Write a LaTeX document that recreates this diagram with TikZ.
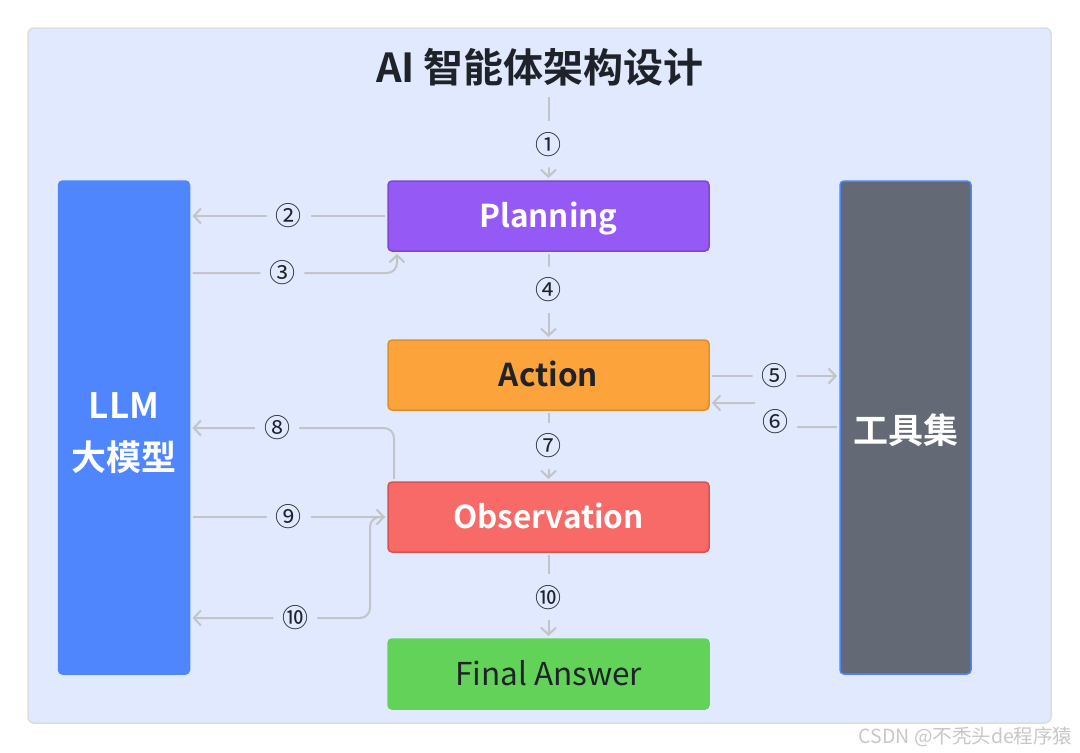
\documentclass[tikz,border=0pt]{standalone}
\usepackage{fontspec}
\newfontfamily\cjk{Noto Sans CJK SC}[BoldFont={Noto Sans CJK SC Bold}]
\usetikzlibrary{arrows.meta}
\definecolor{panel}{HTML}{E0E9FD}
\definecolor{panelrule}{HTML}{D9DDE5}
\definecolor{ink}{HTML}{1F2329}
\definecolor{edge}{HTML}{C3C4C7}
\definecolor{llmblue}{HTML}{4F86FE}
\definecolor{toolgray}{HTML}{636A75}
\definecolor{plan}{HTML}{9559F6}
\definecolor{planrule}{HTML}{7E47D6}
\definecolor{act}{HTML}{FCA33C}
\definecolor{actrule}{HTML}{E38E2B}
\definecolor{obs}{HTML}{F76A67}
\definecolor{obsrule}{HTML}{D9524F}
\definecolor{fin}{HTML}{62D358}

\begin{document}
\begin{tikzpicture}[x=1pt,y=-1pt,
  box/.style={rounded corners=4pt, line width=1.5pt, minimum width=321pt, minimum height=70pt, outer sep=3pt, text height=23pt, text depth=0pt, font=\cjk\bfseries\fontsize{31.5}{36}\selectfont},
  col/.style={rounded corners=4pt, line width=1.5pt, minimum width=131pt, minimum height=493pt, outer sep=3pt},
  coltext/.style={text=white, align=center, font=\cjk\bfseries\fontsize{35}{52}\selectfont},
  flow/.style={draw=edge, line width=2pt, rounded corners=10pt, -{Straight Barb[length=7pt,width=15pt]}},
  num/.style={fill=panel, inner xsep=9pt, inner ysep=11pt, text=ink, font=\cjk\fontsize{26}{26}\selectfont}]
\useasboundingbox (0,0) rectangle (1080,753);
\draw[draw=panelrule, fill=panel, line width=1.5pt, rounded corners=6pt] (28,28) rectangle (1051,723);
\node[text=ink, font=\cjk\bfseries\fontsize{40}{44}\selectfont] (title) at (540,67) {AI 智能体架构设计};
\node[box, fill=plan, draw=planrule, text=white] (plan) at (548.5,216) {Planning};
\node[box, fill=act, draw=actrule, text=ink] (act) at (548.5,375) {Action};
\node[box, fill=obs, draw=obsrule, text=white] (obs) at (548.5,517) {Observation};
\node[box, fill=fin, draw=fin, text=ink, font=\cjk\fontsize{31.5}{36}\selectfont] (fin) at (548.5,674) {Final Answer};
\node[col, fill=llmblue, draw=llmblue] (llm) at (124,427.5) {};
\node[coltext] (llmtext) at ([yshift=-6pt]llm.center) {LLM\\大模型};
\node[col, fill=toolgray, draw=llmblue] (tool) at (905.5,427.5) {};
\node[coltext] (tooltext) at ([yshift=-3pt]tool.center) {工具集};
\node[text=black!22, font=\cjk\fontsize{19.5}{20}\selectfont, anchor=east] (mark) at (1076,737) {CSDN @不秃头de程序猿};

\draw[flow, shorten <=8pt] (plan.north |- title.south) -- node[num,pos=.62]{①} (plan.north);
\draw[flow] (plan.west) -- node[num]{②} (llm.east |- plan.west);
\draw[flow] (llm.east |- 0,273) -| node[num,pos=.22]{③} ([xshift=12pt]plan.south west);
\draw[flow] (plan.south) -- node[num,pos=.43]{④} (act.north);
\draw[flow] (act.east |- 0,376) -- node[num]{⑤} (tool.west |- 0,376);
\draw[flow] (tool.west |- 0,427) -| (775,422) node[num]{⑥} |- (act.east |- 0,403);
\draw[flow] (act.south) -- node[num]{⑦} (obs.north);
\draw[flow] ([xshift=9pt]obs.north west) |- node[num,pos=.79]{⑧} (llm.east |- 0,428);
\draw[flow] (llm.east |- obs.west) -- node[num]{⑨} (obs.west);
\draw[flow] (obs.west) -- ++(-15,0) |- node[num,pos=.71]{⑩} (llm.east |- 0,618);
\draw[flow] (obs.south) -- node[num,pos=.52]{⑩} (fin.north);
\end{tikzpicture}
\end{document}
